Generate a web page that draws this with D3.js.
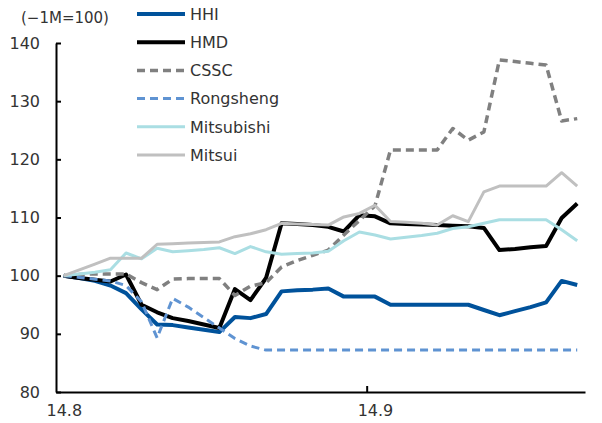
<!DOCTYPE html>
<html>
<head>
<meta charset="utf-8">
<script src="https://cdn.jsdelivr.net/npm/d3@7"></script>
<style>
  body { margin: 0; background: #fff; }
  text { font-family: "DejaVu Sans", sans-serif; fill: #333; }
</style>
</head>
<body>
<div id="chart"></div>
<script>
// trading days, aug - sep 2014
const dates = [
  "2014-08-01", "2014-08-04", "2014-08-05", "2014-08-06", "2014-08-07", "2014-08-08",
  "2014-08-11", "2014-08-12", "2014-08-13", "2014-08-14", "2014-08-18", "2014-08-19",
  "2014-08-20", "2014-08-21", "2014-08-22", "2014-08-25", "2014-08-26", "2014-08-27",
  "2014-08-28", "2014-08-29", "2014-09-01", "2014-09-02", "2014-09-03", "2014-09-04",
  "2014-09-05", "2014-09-11", "2014-09-12", "2014-09-15", "2014-09-16", "2014-09-17",
  "2014-09-18", "2014-09-19", "2014-09-22", "2014-09-23"
];
// the labels shown under the axis (first day of month)
const tickDates = ["2014-08-01", "2014-09-01"];
const yTicks = [80, 90, 100, 110, 120, 130, 140];

// series, indexed to 100 one month before
const hhi = [100, 99.6, 99.1, 98.3, 97.0, 94.2, 91.6, 91.5, 91.1, 90.7, 90.3, 92.9, 92.7, 93.4, 97.3, 97.5, 97.6,
  97.8, 96.4, 96.4, 96.4, 95.0, 95.0, 95.0, 95.0, 95.0, 95.0, 94.1, 93.2, 93.9, 94.6, 95.4, 99.1, 98.4];
const hmd = [100, 99.6, 99.3, 99.0, 100.2, 95.0, 93.7, 92.7, 92.2, 91.6, 91.0, 97.7, 95.8, 99.6, 109.0, 108.9, 108.7,
  108.4, 107.6, 110.4, 110.2, 109.0, 108.9, 108.8, 108.7, 108.6, 108.5, 108.2, 104.4, 104.6, 104.9, 105.1, 109.9, 112.4];
const cssc = [100, 100.2, 100.3, 100.3, 100.3, 98.8, 97.6, 99.4, 99.5, 99.5, 99.5, 96.6, 98.2, 98.8, 101.5, 102.6, 103.5,
  104.4, 107.0, 109.5, 112.0, 121.6, 121.6, 121.6, 121.6, 125.3, 123.3, 124.7, 137.1, 136.8, 136.5, 136.2, 126.6, 127.0];
const rongsheng = [100, 99.7, 99.4, 99.1, 98.3, 95.5, 89.3, 96.1, 94.6, 92.8, 91.0, 89.2, 87.9, 87.2, 87.2, 87.2, 87.2,
  87.2, 87.2, 87.2, 87.2, 87.2, 87.2, 87.2, 87.2, 87.2, 87.2, 87.2, 87.2, 87.2, 87.2, 87.2, 87.2, 87.2];
const mitsubishi = [100, 100.3, 100.6, 101.0, 103.9, 102.9, 104.7, 104.1, 104.3, 104.5, 104.8, 103.8, 105.0, 104.1, 103.7, 103.8, 103.9,
  104.2, 106.0, 107.5, 107.0, 106.3, 106.6, 106.9, 107.3, 108.1, 108.4, 109.0, 109.6, 109.6, 109.6, 109.6, 107.9, 106.0];
const mitsui = [100, 101.0, 102.0, 103.0, 103.0, 103.0, 105.4, 105.5, 105.6, 105.7, 105.8, 106.7, 107.2, 107.9, 109.0, 108.9, 108.8,
  108.7, 110.1, 110.7, 112.1, 109.3, 109.2, 109.0, 108.7, 110.3, 109.3, 114.4, 115.4, 115.4, 115.4, 115.4, 117.7, 115.4];

// series names and looks, same order as excel draws them (first is at the bottom)
const seriesNames = ["HHI", "HMD", "CSSC", "Rongsheng", "Mitsubishi", "Mitsui"];
const seriesValues = [hhi, hmd, cssc, rongsheng, mitsubishi, mitsui];
const seriesColors = ["#00529b", "#000000", "#808080", "#5f93d2", "#aadee3", "#c0c0c0"];
const seriesWidths = [4, 4, 3.5, 3, 3, 3];
const seriesDash = [null, null, "8,5", "8,5", null, null];

const W = 602, H = 423;
const svg = d3.select("#chart").append("svg").attr("width", W).attr("height", H);

// category axis, each day gets the same room, ticks sit between days
const x = d3.scalePoint().domain(dates).range([56, 585]).padding(0.5);
const y = d3.scaleLinear().domain([80, 140]).range([392, 43]);
const parse = d3.timeParse("%Y-%m-%d");
const fmt = d3.timeFormat("%y.%-m");

// y axis, ticks go inside
const yAxis = svg.append("g")
  .attr("transform", "translate(56,0)")
  .call(d3.axisLeft(y).tickValues(yTicks).tickSize(-5).tickSizeOuter(0).tickPadding(16));
yAxis.select(".domain").attr("stroke", "#000").attr("stroke-width", 2);
yAxis.selectAll(".tick line").attr("stroke", "#000").attr("stroke-width", 2);
yAxis.selectAll(".tick text").attr("font-size", 16).attr("fill", "#333")
  .attr("font-family", "DejaVu Sans, sans-serif");

// x axis, only labels from the axis, tick marks are drawn on day boundaries below
const xAxis = svg.append("g")
  .attr("transform", "translate(0,392)")
  .call(d3.axisBottom(x).tickValues(tickDates).tickSize(0).tickSizeOuter(0).tickPadding(13)
    .tickFormat(d => fmt(parse(d))));
xAxis.select(".domain").attr("stroke", "#000").attr("stroke-width", 2);
xAxis.selectAll(".tick text").attr("font-size", 16).attr("fill", "#333")
  .attr("font-family", "DejaVu Sans, sans-serif");
xAxis.selectAll(".boundary").data(tickDates.slice(1)).enter().append("line")
  .attr("class", "boundary")
  .attr("x1", d => x(d) - x.step() / 2).attr("x2", d => x(d) - x.step() / 2)
  .attr("y1", 0).attr("y2", -6)
  .attr("stroke", "#000").attr("stroke-width", 2);

// unit note
svg.append("text").attr("x", 21).attr("y", 23).attr("font-size", 15).text("(\u22121M=100)");

// the lines
const line = d3.line().x((d, i) => x(dates[i])).y(d => y(d));
seriesValues.forEach((vals, k) => {
  svg.append("path")
    .datum(vals)
    .attr("d", line)
    .attr("fill", "none")
    .attr("stroke", seriesColors[k])
    .attr("stroke-width", seriesWidths[k])
    .attr("stroke-dasharray", seriesDash[k])
    .attr("stroke-linejoin", "round");
});

// legend at the top
const legend = svg.append("g");
seriesNames.forEach((name, k) => {
  const ly = 14 + k * 28.2;
  legend.append("line")
    .attr("x1", 137).attr("x2", 185).attr("y1", ly).attr("y2", ly)
    .attr("stroke", seriesColors[k])
    .attr("stroke-width", seriesWidths[k])
    .attr("stroke-dasharray", seriesDash[k]);
  legend.append("text").attr("x", 190).attr("y", ly).attr("dy", "0.36em")
    .attr("font-size", 16).text(name);
});
</script>
</body>
</html>
